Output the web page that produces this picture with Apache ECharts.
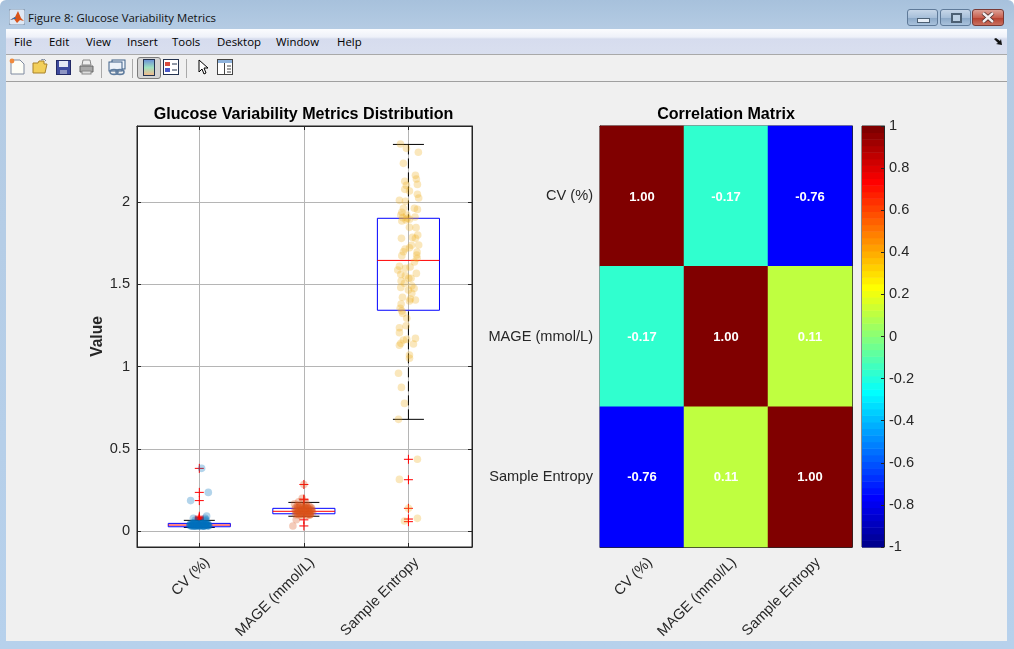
<!DOCTYPE html>
<html><head><meta charset="utf-8">
<style>
html,body{margin:0;padding:0;width:1014px;height:649px;overflow:hidden;background:#fff;font-family:"Open Sans","Noto Sans",sans-serif}
#win{position:absolute;left:0;top:0;width:1014px;height:649px;border-radius:6px 6px 0 0;background:linear-gradient(180deg,#a7c1dc 0,#b4cbe3 28px,#b7d1ec 100%)}
#client{position:absolute;left:6px;top:29px;width:1001px;height:612px;background:#f0f0f0}
#menubar{position:absolute;left:0;top:0;width:100%;height:25px;background:linear-gradient(180deg,#fbfcfe 0,#eef1f9 8px,#d6dcee 10px,#d9dfef 100%);border-bottom:1px solid #a9a9a9}
#toolbar{position:absolute;left:0;top:26px;width:100%;height:26px;background:#f0f0f0;border-bottom:1px solid #a0a0a0}
.t{position:absolute;font-size:11.4px;color:#000;white-space:nowrap;line-height:16px}
.sep{position:absolute;top:59px;width:1px;height:19px;background:#a9a9a9}
.wb{position:absolute;top:9px;height:15px;border:1px solid #5f7a99;border-radius:3px;background:linear-gradient(180deg,#c6d6e8 0,#a7bfd9 50%,#8aa7c6 52%,#a9c2dc 100%)}
svg.i{position:absolute}
#chart{position:absolute;left:0;top:0;width:1014px;height:649px}
</style></head><body>
<div id="win">
  <svg class="i" style="left:9px;top:9px" width="16" height="16" viewBox="0 0 16 16"><rect width="16" height="16" rx="2" fill="#dfe8f4" stroke="#7d93ad"/><path d="M1 11L6 8 9 2 12 9 15 12 11 11 8 14 5 10Z" fill="#d9541a"/><path d="M1 11L6 8 7 10 5 10Z" fill="#2a6fb5"/></svg>
  <div class="t" style="left:28px;top:10px;color:#111">Figure 8: Glucose Variability Metrics</div>
  <div class="wb" style="left:907px;width:29px"><div style="position:absolute;left:9px;top:8px;width:11px;height:3px;background:#e6eef7;border:1px solid #4c6074"></div></div>
  <div class="wb" style="left:940px;width:29px"><div style="position:absolute;left:10px;top:3px;width:7px;height:6px;background:#bcd0e4;border:2px solid #4c6074"></div></div>
  <div class="wb" style="left:972px;width:30px;border-color:#7a3a35;background:linear-gradient(180deg,#dca095 0,#c8604f 50%,#b53f2e 52%,#c9705f 100%)">
    <svg style="position:absolute;left:8px;top:2px" width="14" height="11" viewBox="0 0 14 11"><path d="M2 1L12 10M12 1L2 10" stroke="#4a2a28" stroke-width="4"/><path d="M2 1L12 10M12 1L2 10" stroke="#f4eeee" stroke-width="2.4"/></svg></div>
  <div id="client">
    <div id="menubar">
      <div class="t" style="left:8px;top:5px">File</div>
      <div class="t" style="left:43px;top:5px">Edit</div>
      <div class="t" style="left:80px;top:5px">View</div>
      <div class="t" style="left:121px;top:5px">Insert</div>
      <div class="t" style="left:166px;top:5px">Tools</div>
      <div class="t" style="left:211px;top:5px">Desktop</div>
      <div class="t" style="left:270px;top:5px">Window</div>
      <div class="t" style="left:331px;top:5px">Help</div>
      <svg class="i" style="left:988px;top:9px" width="9" height="8" viewBox="0 0 9 8"><path d="M0 1L2 0 6 3 7 1 8 7 2 6 4 5Z" fill="#111"/></svg>
    </div>
    <div id="toolbar"></div>
  </div>
  <!-- toolbar icons -->
  <svg class="i" style="left:9px;top:58px" width="16" height="17" viewBox="0 0 16 17"><path d="M2 2H11L15 6V16H2Z" fill="#fdfdf6" stroke="#7f8aa0"/><circle cx="3" cy="3" r="2.4" fill="#f08a3c"/></svg>
  <svg class="i" style="left:32px;top:59px" width="16" height="15" viewBox="0 0 16 15"><path d="M1 4H6L7 2H12V5H15L13 14H1Z" fill="#f2cf5a" stroke="#a9822b"/><path d="M9 1L12 0 14 2" stroke="#7f8aa0" fill="none"/></svg>
  <svg class="i" style="left:56px;top:60px" width="15" height="15" viewBox="0 0 15 15"><rect x=".5" y=".5" width="14" height="14" fill="#3e4a9e" stroke="#232a66"/><rect x="3" y="1" width="9" height="6" fill="#e5e8f5"/><rect x="4" y="10" width="7" height="4" fill="#8f96c4"/></svg>
  <svg class="i" style="left:79px;top:59px" width="15" height="16" viewBox="0 0 15 16"><path d="M4 1H11L12 6H3Z" fill="#eee" stroke="#888"/><path d="M1 7H14V13H1Z" fill="#a8a8a8" stroke="#666"/><rect x="3" y="12" width="9" height="3" fill="#ddd" stroke="#888"/></svg>
  <div class="sep" style="left:101px"></div>
  <svg class="i" style="left:108px;top:59px" width="18" height="17" viewBox="0 0 18 17"><rect x="4" y="1" width="13" height="9" fill="#eef3fa" stroke="#3d5f86"/><rect x="1" y="3" width="13" height="9" fill="#eef3fa" stroke="#3d5f86"/><ellipse cx="6" cy="13" rx="4" ry="2.4" fill="none" stroke="#5f7c9e" stroke-width="1.6"/><ellipse cx="12" cy="13" rx="4" ry="2.4" fill="none" stroke="#5f7c9e" stroke-width="1.6"/></svg>
  <div class="sep" style="left:132px"></div>
  <div style="position:absolute;left:137px;top:57px;width:22px;height:20px;border:1px solid #7c7c7c;border-radius:3px;background:#d4d4d4"></div>
  <svg class="i" style="left:143px;top:59px" width="12" height="17" viewBox="0 0 12 17"><defs><linearGradient id="cb" x1="0" y1="0" x2="0" y2="1"><stop offset="0" stop-color="#6a8fd8"/><stop offset=".5" stop-color="#9fe0c0"/><stop offset="1" stop-color="#f5b98a"/></linearGradient></defs><rect x=".5" y=".5" width="11" height="16" fill="url(#cb)" stroke="#23324f"/></svg>
  <svg class="i" style="left:163px;top:59px" width="16" height="16" viewBox="0 0 16 16"><rect x=".5" y=".5" width="15" height="15" fill="#fff" stroke="#23324f"/><rect x="2" y="3" width="5" height="4" fill="#d84a3c"/><rect x="2" y="9" width="5" height="4" fill="#4a58c8"/><path d="M9 5H14M9 11H14" stroke="#23324f"/></svg>
  <div class="sep" style="left:186px"></div>
  <svg class="i" style="left:198px;top:59px" width="11" height="17" viewBox="0 0 11 17"><path d="M1 1V13L4 10 6 15 8 14 6 9 10 9Z" fill="#fff" stroke="#000"/></svg>
  <svg class="i" style="left:217px;top:59px" width="16" height="16" viewBox="0 0 16 16"><rect x=".5" y=".5" width="15" height="15" fill="#fff" stroke="#444"/><rect x="1" y="1" width="14" height="3" fill="#8fb3dc"/><path d="M7.5 4V15" stroke="#444"/><path d="M10 7H14M10 10H14M10 13H14" stroke="#444"/></svg>
</div>
<div id="chart"></div>
<script src="https://cdn.jsdelivr.net/npm/echarts@6/dist/echarts.min.js"></script>
<script>
// ---------- data ----------
const categories = ['CV (%)', 'MAGE (mmol/L)', 'Sample Entropy'];
const yTicks = [0, 0.5, 1, 1.5, 2];
const xTicks = [1, 2, 3];

// box stats: position, lower cap, q1, median, q3, upper cap
const boxStats = [
  [1, 0.022, 0.026, 0.0365, 0.0466, 0.065],
  [2, 0.090, 0.105, 0.120, 0.138, 0.174],
  [3, 0.679, 1.342, 1.645, 1.901, 2.350]
];
const cvOutliers = [0.381, 0.235, 0.185, 0.090, 0.082, 0.078, 0.075, 0.072, 0.070];
const mageOutliers = [0.283, 0.194, 0.190, 0.068, 0.031];
const seOutliers = [0.436, 0.312, 0.138, 0.073, 0.057];

const cvJitter = [0.022,0.086,-0.083,0.07,-0.057,0.055,-0.04,-0.09,-0.07,-0.05,-0.03,-0.01,0.01,0.03,0.05,0.07,0.09,-0.085,-0.06,-0.04,-0.02,0,0.02,0.04,0.06,0.08,-0.075,-0.055,-0.035,-0.015,0.005,0.025,0.045,0.065,0.085,-0.08,-0.065,-0.045,-0.025,-0.005,0.015,0.035,0.055,0.075,-0.09,-0.07,-0.05,-0.03,-0.01,0.01,0.03,0.05,0.07,0.09,-0.06,-0.02,0.02,0.06,-0.04,0,0.04,0.08,-0.08,0.065,-0.045,0.03,-0.015,0.05];
const cvValues = [0.381,0.235,0.185,0.091,0.077,0.078,0.066,0.034,0.038,0.031,0.042,0.036,0.030,0.040,0.033,0.037,0.032,0.041,0.029,0.044,0.035,0.031,0.043,0.030,0.039,0.034,0.036,0.043,0.029,0.038,0.044,0.033,0.029,0.042,0.040,0.030,0.046,0.034,0.032,0.040,0.037,0.045,0.036,0.031,0.038,0.030,0.041,0.035,0.029,0.046,0.032,0.041,0.036,0.033,0.046,0.044,0.047,0.060,0.030,0.034,0.030,0.042,0.044,0.068,0.052,0.048,0.043,0.045];

const mageJitter = [0,-0.105,-0.073,-0.016,-0.089,0.02,-0.05,-0.08,-0.06,-0.04,-0.02,0,0.02,0.04,0.06,0.08,-0.085,-0.065,-0.045,-0.025,-0.005,0.015,0.035,0.055,0.075,-0.07,-0.05,-0.03,-0.01,0.01,0.03,0.05,0.07,0.085,-0.08,-0.055,-0.035,-0.015,0.005,0.025,0.045,0.065,-0.075,-0.045,-0.02,0.01,0.04,0.07,-0.06,-0.03,0,0.03,0.06,-0.04,-0.01,0.02,0.05,0.035,-0.025,0.01,-0.06,0.055];
const mageValues = [0.283,0.031,0.069,0.199,0.165,0.172,0.178,0.118,0.141,0.105,0.129,0.148,0.112,0.136,0.099,0.124,0.133,0.108,0.146,0.119,0.102,0.141,0.127,0.115,0.138,0.125,0.098,0.134,0.113,0.122,0.147,0.104,0.129,0.111,0.100,0.122,0.110,0.143,0.131,0.097,0.118,0.145,0.145,0.126,0.101,0.109,0.137,0.121,0.104,0.152,0.117,0.112,0.101,0.158,0.128,0.160,0.150,0.096,0.094,0.140,0.155,0.098];

const seJitter = [-0.076,-0.019,0.095,-0.048,0.067,0.076,-0.035,0.086,-0.019,-0.035,0.01,0.086,0.098,-0.086,-0.029,0.057,0.086,-0.048,-0.063,-0.073,-0.016,0.063,-0.054,-0.01,0.01,-0.063,-0.022,0.073,0.01,0.089,0.038,-0.067,0.067,0.098,0.029,0.01,-0.032,-0.048,0.083,0.079,-0.063,0.083,0.057,-0.086,0.016,-0.029,-0.102,-0.073,0.076,-0.029,0.025,0.003,-0.07,-0.038,-0.073,0.032,0,0.054,0.032,-0.057,0.019,0.067,0.01,-0.07,-0.079,-0.063,-0.054,-0.016,-0.022,-0.086,-0.086,0.067,-0.048,-0.016,-0.073,0.048,-0.086,0.01,0.01,-0.095,-0.067,-0.038,-0.095,0.086,-0.086,0,0.086,-0.038];
const seValues = [2.353,2.326,2.302,2.235,2.162,2.140,2.126,2.107,2.101,2.077,2.067,2.047,2.024,2.010,2.004,1.962,1.955,1.962,1.937,1.921,1.921,1.909,1.905,1.901,1.895,1.885,1.891,1.844,1.846,1.799,1.785,1.779,1.779,1.739,1.737,1.722,1.714,1.698,1.696,1.678,1.674,1.658,1.635,1.609,1.605,1.597,1.587,1.560,1.566,1.552,1.536,1.536,1.520,1.506,1.481,1.491,1.465,1.475,1.445,1.421,1.410,1.404,1.398,1.380,1.354,1.338,1.323,1.293,1.248,1.236,1.206,1.171,1.161,1.165,1.141,1.137,1.129,1.070,1.050,0.959,0.873,0.776,0.679,0.436,0.314,0.138,0.077,0.061];

const corrRows = [
  [1.00, -0.17, -0.76],
  [-0.17, 1.00, 0.11],
  [-0.76, 0.11, 1.00]
];
const colorbarTicks = { min: -1, max: 1, step: 0.2 };
const levelCount = 64;

// ---------- helpers ----------
function clamp01(v){return Math.max(0,Math.min(1,v));}
function jetRow(i){ // i = 1..64, MATLAB jet
  const x=i/64, ch=v=>Math.round(clamp01(v)*255);
  return 'rgb('+ch(Math.min(4*x-1.5,-4*x+4.5))+','+ch(Math.min(4*x-0.5,-4*x+3.5))+','+ch(Math.min(4*x+0.5,-4*x+2.5))+')';
}
function jetFor(v){
  const i=Math.min(levelCount,Math.floor((v+1)/2*levelCount)+1);
  return jetRow(i);
}
const levels = Array.from({length:levelCount},(_,k)=>k);
const corrData = [];
corrRows.forEach((row,y)=>row.forEach((v,x)=>corrData.push({value:[x,y,v],itemStyle:{color:jetFor(v)}})));

const ink='#262626', FONT='"Liberation Sans",Arial,sans-serif', gridGray='#b5b5b5', TICK=14.6;
const pts=(pos,j,v)=>v.map((val,k)=>[pos+j[k],val]);
const outs=(pos,v)=>v.map(val=>[pos,val]);

function scatter(data,color){return {type:'scatter',xAxisIndex:0,yAxisIndex:0,data,symbol:'circle',symbolSize:7.6,z:5,silent:true,
  itemStyle:{color,opacity:0.3,borderWidth:0}};}
function plusSeries(data){return {type:'custom',xAxisIndex:0,yAxisIndex:0,data,z:4,silent:true,
  renderItem(p,api){const c=api.coord([api.value(0),api.value(1)]);const s={stroke:'#ff0000',lineWidth:1,fill:null};
    return {type:'group',children:[
      {type:'line',shape:{x1:c[0]-4.5,y1:c[1],x2:c[0]+4.5,y2:c[1]},style:s},
      {type:'line',shape:{x1:c[0],y1:c[1]-4.5,x2:c[0],y2:c[1]+4.5},style:s}]};}};}

const option={
  animation:false,
  backgroundColor:'transparent',
  textStyle:{fontFamily:FONT},
  title:[
    {text:'Glucose Variability Metrics Distribution',left:298.5,top:102,textAlign:'center',textStyle:{fontFamily:FONT,fontSize:16.1,fontWeight:'bold',color:'#000'}},
    {text:'Correlation Matrix',left:721,top:102,textAlign:'center',textStyle:{fontFamily:FONT,fontSize:16.1,fontWeight:'bold',color:'#000'}}
  ],
  grid:[
    {left:137,top:126,width:335,height:421,show:true,backgroundColor:'#fff',borderColor:ink,borderWidth:1},
    {left:600,top:126,width:252,height:421,show:true,borderColor:ink,borderWidth:1},
    {left:862,top:126,width:22,height:421,show:true,borderColor:ink,borderWidth:1}
  ],
  xAxis:[
    {gridIndex:0,type:'value',min:0.404,max:3.608,position:'bottom',
      axisLine:{show:true,onZero:false,lineStyle:{color:ink}},
      axisTick:{show:true,inside:true,length:4,customValues:xTicks,lineStyle:{color:ink}},
      splitLine:{show:true,lineStyle:{color:gridGray,width:1}},
      axisLabel:{show:true,customValues:xTicks,rotate:45,margin:5,verticalAlign:'top',padding:[4,0,0,0],color:ink,fontSize:TICK,fontFamily:FONT,formatter:v=>categories[Math.round(v)-1]||''}},
    {gridIndex:0,type:'value',min:0.404,max:3.608,position:'top',
      axisLine:{show:true,onZero:false,lineStyle:{color:ink}},
      axisTick:{show:true,inside:true,length:4,customValues:xTicks,lineStyle:{color:ink}},
      splitLine:{show:false},axisLabel:{show:false}},
    {gridIndex:1,type:'category',data:categories,position:'bottom',
      axisLine:{lineStyle:{color:ink}},axisTick:{show:true,inside:true,length:3,alignWithLabel:true,lineStyle:{color:ink}},
      axisLabel:{rotate:45,margin:5,verticalAlign:'top',padding:[4,0,0,0],color:ink,fontSize:TICK,fontFamily:FONT,interval:0},splitLine:{show:false}},
    {gridIndex:1,type:'category',data:categories,position:'top',
      axisLine:{lineStyle:{color:ink}},axisTick:{show:true,inside:true,length:3,alignWithLabel:true,lineStyle:{color:ink}},axisLabel:{show:false},splitLine:{show:false}},
    {gridIndex:2,type:'value',min:0,max:1,show:false}
  ],
  yAxis:[
    {gridIndex:0,type:'value',min:-0.097,max:2.462,position:'left',name:'Value',nameLocation:'middle',nameGap:31,
      nameTextStyle:{fontFamily:FONT,fontSize:15.6,fontWeight:'bold',color:ink},
      axisLine:{show:true,onZero:false,lineStyle:{color:ink}},
      axisTick:{show:true,inside:true,length:4,customValues:yTicks,lineStyle:{color:ink}},
      splitLine:{show:true,lineStyle:{color:gridGray,width:1}},
      axisLabel:{show:true,customValues:yTicks,margin:7,color:ink,fontSize:TICK,fontFamily:FONT,formatter:v=>String(v)}},
    {gridIndex:0,type:'value',min:-0.097,max:2.462,position:'right',
      axisLine:{show:true,onZero:false,lineStyle:{color:ink}},
      axisTick:{show:true,inside:true,length:4,customValues:yTicks,lineStyle:{color:ink}},
      splitLine:{show:false},axisLabel:{show:false}},
    {gridIndex:1,type:'category',data:categories,inverse:true,position:'left',
      axisLine:{lineStyle:{color:ink}},axisTick:{show:true,inside:true,length:3,alignWithLabel:true,lineStyle:{color:ink}},
      axisLabel:{margin:7,color:ink,fontSize:TICK,fontFamily:FONT,interval:0},splitLine:{show:false}},
    {gridIndex:1,type:'category',data:categories,inverse:true,position:'right',
      axisLine:{lineStyle:{color:ink}},axisTick:{show:true,inside:true,length:3,alignWithLabel:true,lineStyle:{color:ink}},axisLabel:{show:false},splitLine:{show:false}},
    {gridIndex:2,type:'value',min:colorbarTicks.min,max:colorbarTicks.max,interval:colorbarTicks.step,position:'right',z:10,
      axisLine:{show:true,onZero:false,lineStyle:{color:ink}},
      axisTick:{show:true,inside:true,length:3,lineStyle:{color:ink}},splitLine:{show:false},
      axisLabel:{margin:5,color:ink,fontSize:TICK,fontFamily:FONT,formatter:v=>String(Math.round(v*10)/10)}}
  ],
  series:[
    {type:'custom',xAxisIndex:0,yAxisIndex:0,data:boxStats,z:3,silent:true,
      renderItem(p,api){
        const x=api.value(0),lo=api.value(1),q1=api.value(2),m=api.value(3),q3=api.value(4),hi=api.value(5);
        const a=api.coord([x-0.297,q3]),b=api.coord([x+0.297,q1]),med=api.coord([x,m]),cLo=api.coord([x,lo]),cHi=api.coord([x,hi]);
        const cap=15.5,blk={stroke:'#000',lineWidth:1,fill:null},dash={stroke:'#000',lineWidth:1,fill:null,lineDash:[10,4]};
        return {type:'group',children:[
          {type:'line',shape:{x1:cHi[0],y1:cHi[1],x2:cHi[0],y2:a[1]},style:dash},
          {type:'line',shape:{x1:cLo[0],y1:cLo[1],x2:cLo[0],y2:b[1]},style:dash},
          {type:'line',shape:{x1:cHi[0]-cap,y1:cHi[1],x2:cHi[0]+cap,y2:cHi[1]},style:blk},
          {type:'line',shape:{x1:cLo[0]-cap,y1:cLo[1],x2:cLo[0]+cap,y2:cLo[1]},style:blk},
          {type:'rect',shape:{x:a[0],y:a[1],width:b[0]-a[0],height:b[1]-a[1]},style:{stroke:'#0000ff',lineWidth:1,fill:null}},
          {type:'line',shape:{x1:a[0],y1:med[1],x2:b[0],y2:med[1]},style:{stroke:'#ff0000',lineWidth:1,fill:null}}
        ]};
      }},
    plusSeries(outs(1,cvOutliers)),
    plusSeries(outs(2,mageOutliers)),
    plusSeries(outs(3,seOutliers)),
    scatter(pts(1,cvJitter,cvValues),'#0072BD'),
    scatter(pts(2,mageJitter,mageValues),'#D95319'),
    scatter(pts(3,seJitter,seValues),'#EDB120'),
    {type:'heatmap',xAxisIndex:2,yAxisIndex:2,data:corrData,silent:true,
      label:{show:true,formatter:p=>p.value[2].toFixed(2),color:'#fff',fontSize:13,fontWeight:'bold',fontFamily:FONT,offset:[0,1]},
      itemStyle:{borderWidth:0}},
    {type:'custom',xAxisIndex:4,yAxisIndex:4,data:levels,silent:true,z:1,
      renderItem(p,api){
        const k=api.value(0),span=colorbarTicks.max-colorbarTicks.min;
        const lo=colorbarTicks.min+k/levelCount*span,hi=colorbarTicks.min+(k+1)/levelCount*span;
        const a=api.coord([0,hi]),b=api.coord([1,lo]);
        return {type:'rect',shape:{x:a[0],y:a[1],width:b[0]-a[0],height:b[1]-a[1]+0.5},style:{fill:jetRow(k+1),stroke:null}};
      }}
  ]
};
const chart=echarts.init(document.getElementById('chart'),null,{renderer:'canvas'});
chart.setOption(option);
</script>
</body></html>
